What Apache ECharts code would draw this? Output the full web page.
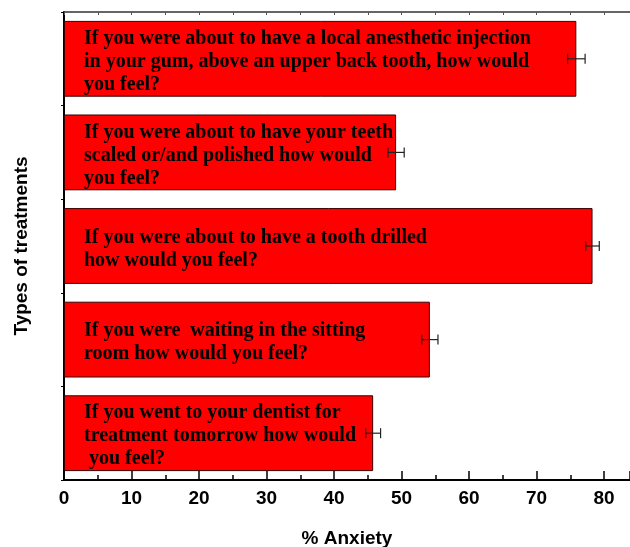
<!DOCTYPE html>
<html>
<head>
<meta charset="utf-8">
<script src="https://cdn.jsdelivr.net/npm/echarts@6/dist/echarts.min.js"></script>
<style>html,body{margin:0;padding:0;background:#fff}#c{width:630px;height:547px}</style>
</head>
<body>
<div id="c"></div>
<script>
const categories = [
  "If you were about to have a local anesthetic injection\nin your gum, above an upper back tooth, how would\nyou feel?",
  "If you were about to have your teeth\nscaled or/and polished how would\nyou feel?",
  "If you were about to have a tooth drilled\nhow would you feel?",
  "If you were  waiting in the sitting\nroom how would you feel?",
  "If you went to your dentist for\ntreatment tomorrow how would\n you feel?"
];
const values = [75.9, 49.2, 78.3, 54.2, 45.8];
const errors = [1.3, 1.2, 1.0, 1.2, 1.1];
const xTicks = [0, 10, 20, 30, 40, 50, 60, 70, 80];

const chart = echarts.init(document.getElementById('c'), null, {renderer: 'canvas'});
const sans = 'Liberation Sans, Arial, sans-serif';
const serif = 'Liberation Serif, Times New Roman, serif';

chart.setOption({
  animation: false,
  backgroundColor: '#fff',
  grid: {left: 64, right: 0, top: 12, bottom: 67, containLabel: false, outerBoundsMode: 'none'},
  xAxis: [{
    type: 'value', position: 'bottom', min: 0, max: 83.85, interval: 10,
    name: '% Anxiety', nameLocation: 'middle', nameGap: 49,
    nameTextStyle: {fontFamily: sans, fontWeight: 'bold', fontSize: 19, color: '#000'},
    axisLine: {show: true, lineStyle: {color: '#000', width: 2}},
    axisTick: {show: true, inside: true, length: 9, lineStyle: {color: '#000', width: 1.5}},
    minorTick: {show: true, splitNumber: 2, length: 5, lineStyle: {color: '#000', width: 1.5}},
    axisLabel: {
      fontFamily: sans, fontWeight: 'bold', fontSize: 19, color: '#000', margin: 9,
      formatter: v => xTicks.includes(v) ? String(v) : ''
    },
    splitLine: {show: false}
  }, {
    type: 'value', position: 'top', min: 0, max: 83.85, interval: 10,
    axisLine: {show: true, lineStyle: {color: '#333', width: 1.5}},
    axisTick: {show: true, inside: true, length: 3, lineStyle: {color: '#555', width: 1}},
    minorTick: {show: true, splitNumber: 2, length: 3, lineStyle: {color: '#555', width: 1}},
    axisLabel: {show: false},
    splitLine: {show: false}
  }],
  yAxis: {
    type: 'category', data: categories, inverse: true,
    name: 'Types of treatments', nameLocation: 'middle', nameGap: 33, nameRotate: 90,
    nameTextStyle: {fontFamily: sans, fontWeight: 'bold', fontSize: 19, color: '#000'},
    axisLine: {show: true, lineStyle: {color: '#000', width: 2}},
    axisTick: {show: true, length: 3, lineStyle: {color: '#000', width: 1}},
    axisLabel: {show: false},
    splitLine: {show: false}
  },
  series: [{
    type: 'bar', data: values, barCategoryGap: '19%',
    itemStyle: {color: '#ff0000', borderColor: '#3a0000', borderWidth: 1},
    label: {
      show: true, position: [20, '50%'], offset: [0, 3], align: 'left', verticalAlign: 'middle',
      formatter: p => categories[p.dataIndex],
      fontFamily: serif, fontWeight: 'bold', fontSize: 20, lineHeight: 23, color: '#000'
    }
  }, {
    type: 'custom',
    data: values.map((v, i) => [i, v - errors[i], v + errors[i]]),
    encode: {x: [1, 2], y: 0},
    renderItem: function (params, api) {
      const i = api.value(0);
      const lo = api.coord([api.value(1), i]);
      const hi = api.coord([api.value(2), i]);
      const h = 5;
      const st = {stroke: '#222', lineWidth: 1.2};
      return {type: 'group', children: [
        {type: 'line', shape: {x1: lo[0], y1: lo[1], x2: hi[0], y2: hi[1]}, style: st},
        {type: 'line', shape: {x1: lo[0], y1: lo[1] - h, x2: lo[0], y2: lo[1] + h}, style: st},
        {type: 'line', shape: {x1: hi[0], y1: hi[1] - h, x2: hi[0], y2: hi[1] + h}, style: st}
      ]};
    },
    z: 10
  }]
});
</script>
</body>
</html>
